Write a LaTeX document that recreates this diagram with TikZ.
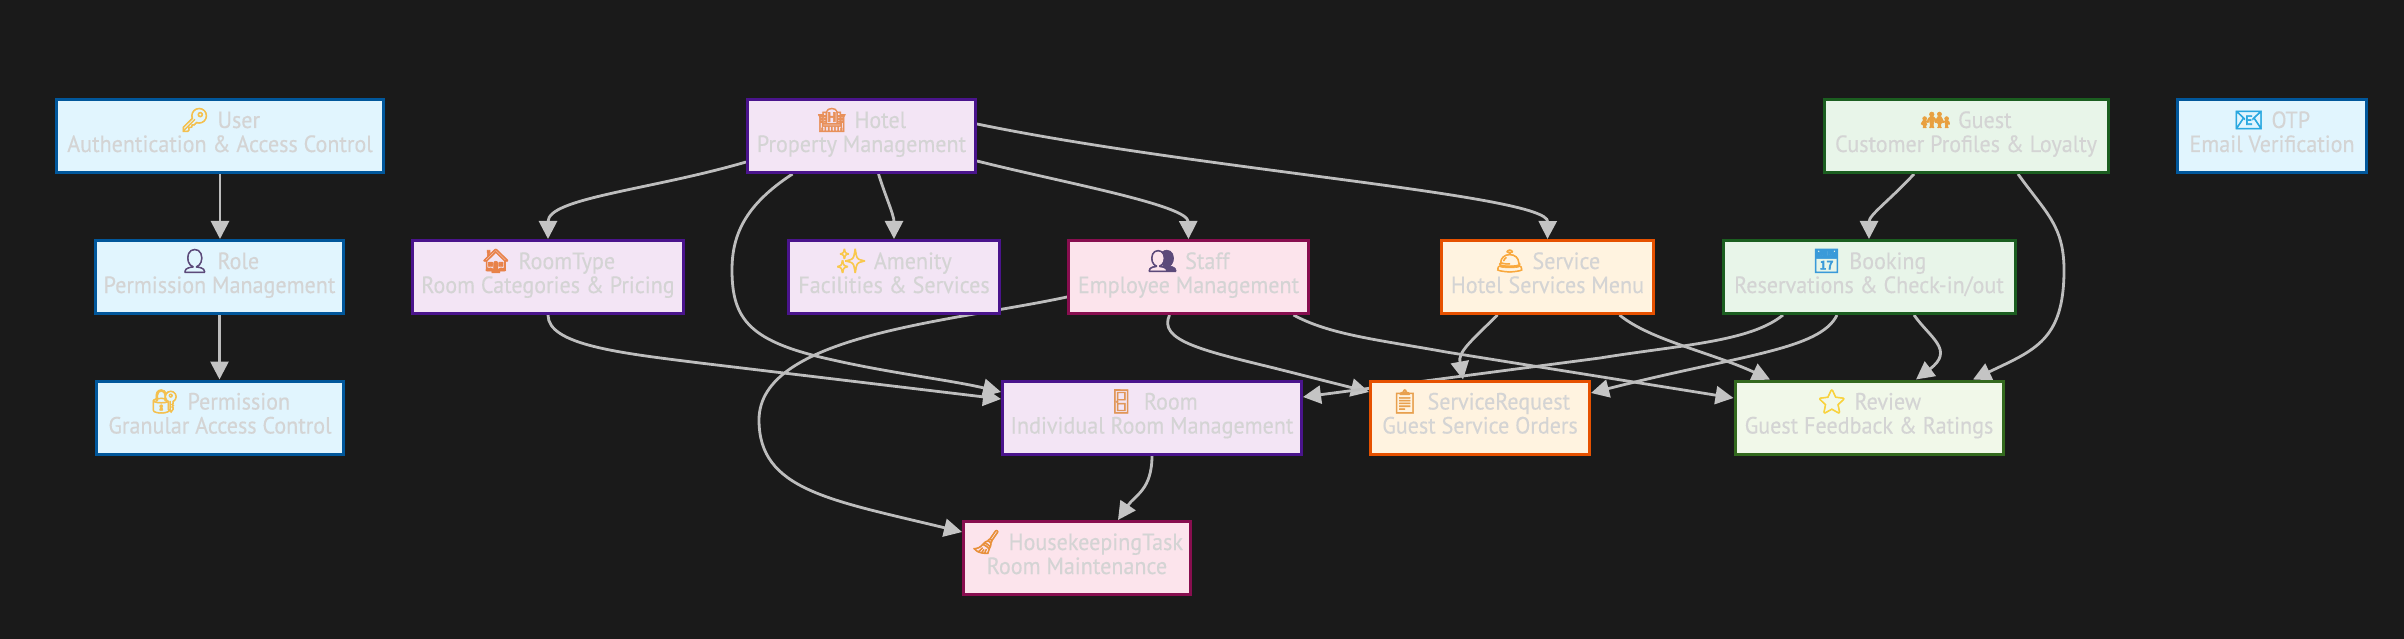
\documentclass[tikz,border=0pt]{standalone}
\usepackage{fontspec}
\setmainfont[FakeStretch=0.94,FakeBold=0.25]{PT Sans}
\newfontfamily\emojifont[FakeBold=2.5]{Noto Emoji}
\usetikzlibrary{arrows.meta,backgrounds}
\definecolor{bgc}{HTML}{1A1A1A}
\definecolor{txt}{HTML}{D4D4D4}
\definecolor{edgec}{HTML}{BDBDBD}
\definecolor{tipc}{HTML}{C4C4C4}
\newcommand{\emo}[2]{\smash{\emojifont\color[HTML]{#1}#2}\,\,}
\newcommand{\lines}[2]{\rule{0pt}{18pt}#1\\#2\rule[-10pt]{0pt}{10pt}}
\tikzset{
 x=1pt,y=-1pt,
 box/.style={draw,line width=3pt,rectangle,inner sep=0pt,align=center,text=txt,
   font=\fontsize{23.5}{24}\selectfont,minimum height=73pt},
 blueb/.style={box,fill={rgb,255:red,225;green,245;blue,254},draw={rgb,255:red,1;green,87;blue,155}},
 purpleb/.style={box,fill={rgb,255:red,243;green,229;blue,245},draw={rgb,255:red,74;green,20;blue,140}},
 pinkb/.style={box,fill={rgb,255:red,252;green,228;blue,236},draw={rgb,255:red,136;green,14;blue,79}},
 orangeb/.style={box,fill={rgb,255:red,255;green,243;blue,224},draw={rgb,255:red,230;green,81;blue,0}},
 greenb/.style={box,fill={rgb,255:red,232;green,245;blue,233},draw={rgb,255:red,27;green,94;blue,32}},
 limeb/.style={box,fill={rgb,255:red,241;green,248;blue,233},draw={rgb,255:red,51;green,105;blue,30}},
 link/.style={draw=edgec,line width=2.8pt,-{Triangle[length=18pt,width=18pt,fill=tipc,color=tipc]}},
}
\begin{document}
\begin{tikzpicture}
\useasboundingbox (0,0) rectangle (2404,639);
\node[blueb,minimum width=327pt] (user) at (220,136) {\lines{\emo{F4C04E}{🔑}User}{Authentication \& Access Control}};
\node[blueb,minimum width=248pt] (role) at (219.5,277) {\lines{\emo{5C4A7A}{👤}Role}{Permission Management}};
\node[blueb,minimum width=247pt] (perm) at (220,417.5) {\lines{\emo{F4C04E}{🔐}Permission}{Granular Access Control}};
\node[purpleb,minimum width=271pt] (roomtype) at (548,277) {\lines{\emo{E8824A}{🏠}RoomType}{Room Categories \& Pricing}};
\node[purpleb,minimum width=228pt] (hotel) at (861.5,136) {\lines{\emo{E8905A}{🏨}Hotel}{Property Management}};
\node[purpleb,minimum width=211pt] (amenity) at (894,277) {\lines{\emo{F9C84C}{✨}Amenity}{Facilities \& Services}};
\node[pinkb,minimum width=240pt] (staff) at (1188.5,277) {\lines{\emo{5C4A7A}{👥}Staff}{Employee Management}};
\node[orangeb,minimum width=212pt] (service) at (1547.5,277) {\lines{\emo{F9A83C}{🛎}Service}{Hotel Services Menu}};
\node[greenb,minimum width=292pt] (booking) at (1869,277) {\lines{\emo{3A9AD9}{📅}Booking}{Reservations \& Check-in/out}};
\node[greenb,minimum width=284pt] (guest) at (1966,136) {\lines{\emo{E8A040}{👪}Guest}{Customer Profiles \& Loyalty}};
\node[blueb,minimum width=189pt] (otp) at (2272,136) {\lines{\emo{2AA8E0}{📧}OTP}{Email Verification}};
\node[limeb,minimum width=268pt] (review) at (1869,417.5) {\lines{\emo{F9D23C}{⭐}Review}{Guest Feedback \& Ratings}};
\node[orangeb,minimum width=219pt] (request) at (1480,417.5) {\lines{\emo{E8A04E}{📋}ServiceRequest}{Guest Service Orders}};
\node[purpleb,minimum width=299pt] (room) at (1152,417.5) {\lines{\emo{E0975A}{🚪}Room}{Individual Room Management}};
\node[pinkb,minimum width=227pt] (task) at (1077,558) {\lines{\emo{E8903A}{🧹}HousekeepingTask}{Room Maintenance}};
\begin{pgfonlayer}{background}
\fill[bgc] (0,0) rectangle (2404,639);
\draw[link] (user.south) -- (user.south |- role.north);
\draw[link] (role.south) -- (role.south |- perm.north);
\draw[link] ([yshift=-26pt]hotel.west) .. controls (650,190) and (548,198) .. (roomtype.north);
\draw[link] ([xshift=-69pt]hotel.south) .. controls (745,205) and (732,235) .. (732,270) .. controls (732,320) and (750,342) .. (833,360) .. controls (890,373) and (950,380) .. ([yshift=25.5pt]room.west);
\draw[link] ([xshift=17pt]hotel.south) .. controls (885,195) and (894,215) .. (amenity.north);
\draw[link] ([yshift=-25pt]hotel.east) .. controls (1060,182) and (1188,205) .. (staff.north);
\draw[link] ([yshift=12pt]hotel.east) .. controls (1200,170) and (1548,195) .. (service.north);
\draw[link] (roomtype.south) .. controls (548,345) and (620,353) .. (700,363) -- ([yshift=18.5pt]room.west);
\draw[link] ([yshift=-20pt]staff.west) .. controls (950,322) and (759,335) .. (759,420) .. controls (759,490) and (830,500) .. ([yshift=26pt]task.west);
\draw[link] ([xshift=-19pt]staff.south) .. controls (1158,340) and (1200,350) .. (1274,368) -- ([yshift=25.5pt]request.west);
\draw[link] ([xshift=105pt]staff.south) .. controls (1330,335) and (1380,340) .. (1446,352) -- ([yshift=19.5pt]review.west);
\draw[link] ([xshift=-50pt]service.south) .. controls (1470,342) and (1458,352) .. ([xshift=-17pt]request.north);
\draw[link] ([xshift=72pt]service.south) .. controls (1650,340) and (1710,352) .. ([xshift=-99pt]review.north);
\draw[link] ([xshift=-86pt]booking.south) .. controls (1750,342) and (1680,345) .. (1600,358) -- ([yshift=20.5pt]room.east);
\draw[link] ([xshift=-32pt]booking.south) .. controls (1820,350) and (1740,355) .. ([yshift=24.5pt]request.east);
\draw[link] ([xshift=45pt]booking.south) .. controls (1930,338) and (1955,350) .. ([xshift=47pt]review.north);
\draw[link] ([xshift=-52pt]guest.south) .. controls (1890,200) and (1869,215) .. (booking.north);
\draw[link] ([xshift=52pt]guest.south) .. controls (2045,212) and (2064,225) .. (2064,270) .. controls (2064,340) and (2035,350) .. ([xshift=104pt]review.north);
\draw[link] (room.south) .. controls (1152,490) and (1135,495) .. ([xshift=41pt]task.north);
\end{pgfonlayer}
\end{tikzpicture}
\end{document}
